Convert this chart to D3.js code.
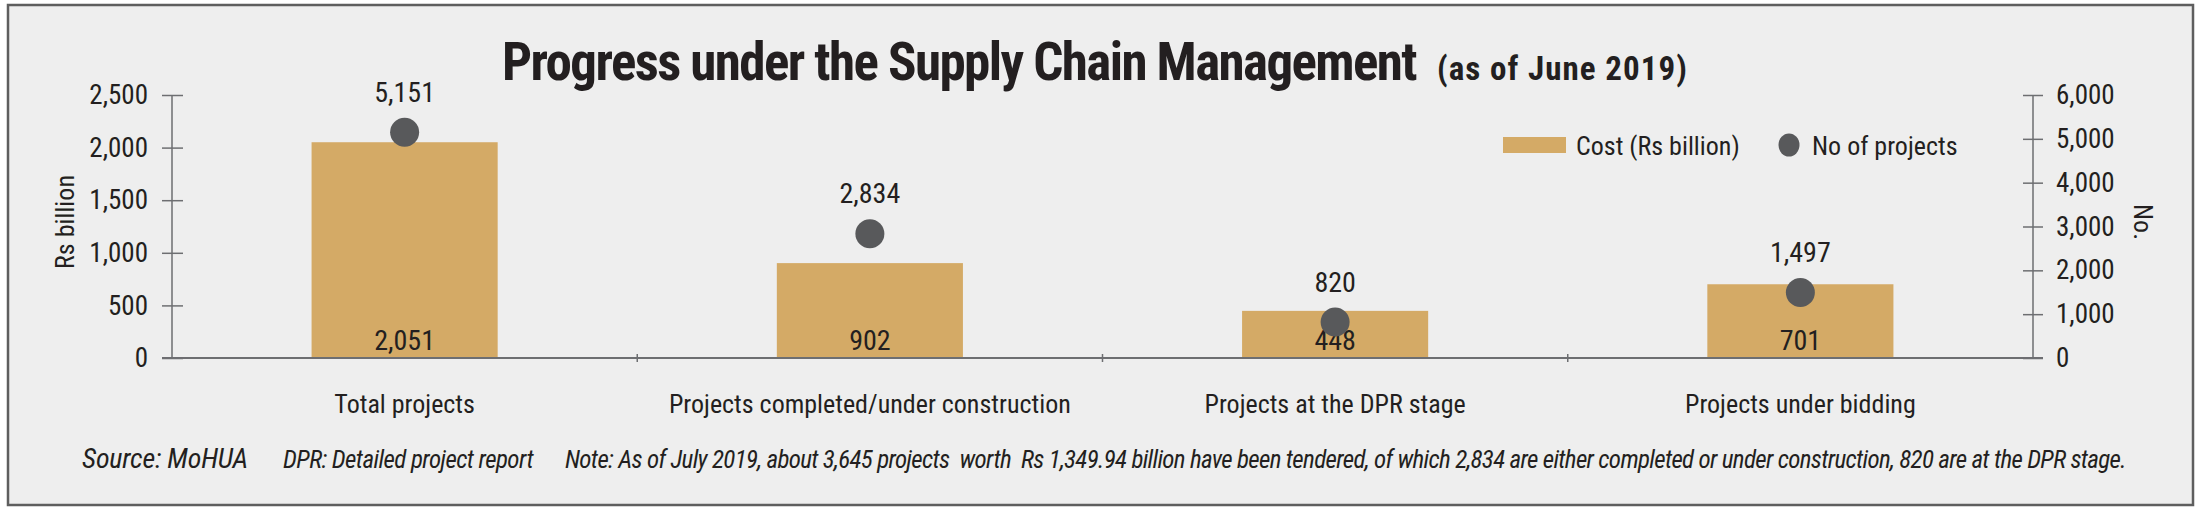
<!DOCTYPE html>
<html>
<head>
<meta charset="utf-8">
<script src="https://cdn.jsdelivr.net/npm/d3@7"></script>
<style>
  html, body { margin: 0; padding: 0; background: #fff; }
  svg text { font-family: "Liberation Sans Narrow", "Roboto Condensed", "DejaVu Sans Condensed", "Liberation Sans", sans-serif; fill: #231f20; }
  .title { font-weight: bold; }
  .foot { font-style: italic; white-space: pre; }
</style>
</head>
<body>
<div class="chart"></div>
<script>
const categories = ['Total projects', 'Projects completed/under construction', 'Projects at the DPR stage', 'Projects under bidding']
const cost = [2051, 902, 448, 701]
const projects = [5151, 2834, 820, 1497]
const leftTicks = [0, 500, 1000, 1500, 2000, 2500]
const rightTicks = [0, 1000, 2000, 3000, 4000, 5000, 6000]
const footnotes = [
  'Source: MoHUA',
  'DPR: Detailed project report',
  'Note: As of July 2019, about 3,645 projects  worth  Rs 1,349.94 billion have been tendered, of which 2,834 are either completed or under construction, 820 are at the DPR stage.'
]

const width = 2207
const height = 515
const barColor = '#d4aa66'
const dotColor = '#58595b'
const axisColor = '#6d6e71'
const fmt = d3.format(',')

const margin = {top: 95, right: 174, bottom: 157, left: 172}

// squeeze or stretch a text to a width by letter spacing
const fitWidth = (sel, target) => {
	sel.each(function() {
		let n = this.getComputedTextLength();
		let chars = this.textContent.length;
		d3.select(this).style('letter-spacing', ((target - n) / chars) + 'px');
	})
}

const svg = d3.select('.chart')
.append('svg')
.attr('width', width)
.attr('height', height)

// panel + border
svg.append('rect')
.attr('x', 8).attr('y', 5)
.attr('width', 2185).attr('height', 500)
.style('fill', '#eeeeee')
.style('stroke', '#5e5e5e')
.style('stroke-width', 2.5)

let xScale = d3.scaleBand()
.domain(categories)
.range([margin.left, width - margin.right])
.paddingInner(0.6)
.paddingOuter(0.3)

// ticks sit between the groups
let step = (width - margin.right - margin.left) / categories.length

let yLeft = d3.scaleLinear()
.domain([0, 2500])
.range([height - margin.bottom, margin.top])

let yRight = d3.scaleLinear()
.domain([0, 6000])
.range([height - margin.bottom, margin.top])

// title
svg.append('text')
.attr('class', 'title')
.attr('x', 502)
.attr('y', 80)
.style('font-size', '53px')
.text('Progress under the Supply Chain Management')
.call(fitWidth, 914)

svg.append('text')
.attr('class', 'title')
.attr('x', 1437)
.attr('y', 80)
.style('font-size', '33px')
.text('(as of June 2019)')
.call(fitWidth, 251)

// bars
svg.append('g')
.selectAll('rect')
.data(categories)
.enter()
.append('rect')
.attr('x', d => xScale(d))
.attr('width', xScale.bandwidth())
.attr('y', (d, i) => yLeft(cost[i]))
.attr('height', (d, i) => yLeft(0) - yLeft(cost[i]))
.style('fill', barColor)

// bar value labels (inside, at the base)
svg.append('g')
.selectAll('text')
.data(categories)
.enter()
.append('text')
.attr('x', d => xScale(d) + xScale.bandwidth() / 2)
.attr('y', yLeft(0) - 8)
.attr('text-anchor', 'middle')
.style('font-size', '28px')
.text((d, i) => fmt(cost[i]))

// x axis baseline
const xAxis = svg.append('g')
.attr('transform', 'translate(0,' + yLeft(0) + ')')
.call(d3.axisBottom(xScale).tickSize(0).tickPadding(37))

xAxis.select('.domain')
.attr('d', 'M' + (margin.left - 10) + ',0H' + (width - margin.right + 10))
.style('stroke', axisColor)
.style('stroke-width', 2.2)

xAxis.selectAll('.tick text')
.style('font-size', '26px')
.attr('fill', null)

// small ticks between the categories
xAxis.selectAll('.sep')
.data(d3.range(1, categories.length))
.enter()
.append('line')
.attr('x1', i => margin.left + i * step)
.attr('x2', i => margin.left + i * step)
.attr('y1', -4)
.attr('y2', 4)
.style('stroke', axisColor)
.style('stroke-width', 1.5)

// left axis
const leftAxis = svg.append('g')
.attr('transform', 'translate(' + margin.left + ',0)')
.call(d3.axisLeft(yLeft).tickValues(leftTicks).tickFormat(fmt).tickSize(0).tickPadding(24))

leftAxis.select('.domain')
.attr('d', 'M0,' + yLeft(2500) + 'V' + yLeft(0))
.style('stroke', axisColor)
.style('stroke-width', 1.5)

leftAxis.selectAll('.tick line')
.attr('x1', -10)
.attr('x2', 11)
.style('stroke', axisColor)
.style('stroke-width', 1.5)

leftAxis.selectAll('.tick text')
.style('font-size', '27px')
.attr('fill', null)

// right axis
const rightAxis = svg.append('g')
.attr('transform', 'translate(' + (width - margin.right) + ',0)')
.call(d3.axisRight(yRight).tickValues(rightTicks).tickFormat(fmt).tickSize(0).tickPadding(23))

rightAxis.select('.domain')
.attr('d', 'M0,' + yRight(6000) + 'V' + yRight(0))
.style('stroke', axisColor)
.style('stroke-width', 1.5)

rightAxis.selectAll('.tick line')
.attr('x1', -10)
.attr('x2', 10)
.style('stroke', axisColor)
.style('stroke-width', 1.5)

rightAxis.selectAll('.tick text')
.style('font-size', '27px')
.attr('fill', null)

svg.selectAll('.tick text').style('font-family', null)

// axis titles
svg.append('text')
.attr('transform', 'translate(74,222) rotate(-90)')
.attr('text-anchor', 'middle')
.style('font-size', '26px')
.text('Rs billion')

svg.append('text')
.attr('transform', 'translate(2134,222) rotate(90)')
.attr('text-anchor', 'middle')
.style('font-size', '26px')
.text('No.')

// dots for number of projects
const r = 14.5

svg.append('g')
.selectAll('circle')
.data(categories)
.enter()
.append('circle')
.attr('cx', d => xScale(d) + xScale.bandwidth() / 2)
.attr('cy', (d, i) => yRight(projects[i]))
.attr('r', r)
.style('fill', dotColor)

svg.append('g')
.selectAll('text')
.data(categories)
.enter()
.append('text')
.attr('x', d => xScale(d) + xScale.bandwidth() / 2)
.attr('y', (d, i) => yRight(projects[i]) - r - 16)
.attr('text-anchor', 'middle')
.style('font-size', '28px')
.text((d, i) => fmt(projects[i]))

// legend
const legend = svg.append('g')

legend.append('rect')
.attr('x', 1503).attr('y', 137)
.attr('width', 63).attr('height', 16)
.style('fill', barColor)

legend.append('text')
.attr('x', 1576).attr('y', 155)
.style('font-size', '26px')
.text('Cost (Rs billion)')

legend.append('ellipse')
.attr('cx', 1789).attr('cy', 145)
.attr('rx', 10.5).attr('ry', 11.5)
.style('fill', dotColor)

legend.append('text')
.attr('x', 1812).attr('y', 155)
.style('font-size', '26px')
.text('No of projects')

// footnotes, fitted to the widths of the original
const footX = [82, 283, 565]
const footW = [166, 250, 1561]
const footSize = [28, 25, 25]

svg.append('g')
.selectAll('text')
.data(footnotes)
.enter()
.append('text')
.attr('class', 'foot')
.attr('x', (d, i) => footX[i])
.attr('y', 468)
.style('font-size', (d, i) => footSize[i] + 'px')
.text(d => d)
.each(function(d, i) { d3.select(this).call(fitWidth, footW[i]) })
</script>
</body>
</html>
